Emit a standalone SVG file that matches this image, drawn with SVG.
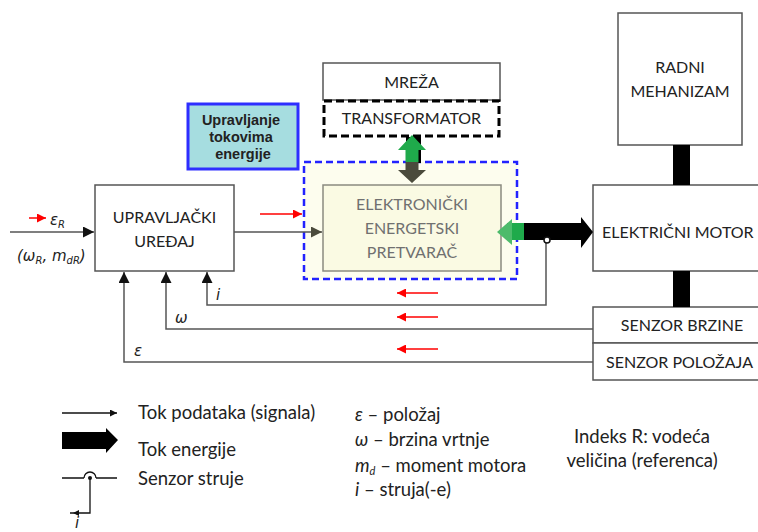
<svg xmlns="http://www.w3.org/2000/svg" width="758" height="532" viewBox="0 0 758 532">
<defs>
<style>
.box{fill:#fff;stroke:#555;stroke-width:1.5}
.t{font-family:Lato,"Liberation Sans",sans-serif;font-size:16px;fill:#222}
.tc{text-anchor:middle}
.g{fill:#707070}
.it{font-family:"DejaVu Sans",Lato,sans-serif;font-style:italic;font-size:15px;fill:#222}
.ln{fill:none;stroke:#555;stroke-width:1.5}
.red{fill:none;stroke:#f00;stroke-width:1.5}
.leg{font-family:Lato,"Liberation Sans",sans-serif;font-size:18.5px;fill:#222}
</style>
<marker id="ah" viewBox="0 0 10 10" refX="10" refY="5" markerWidth="7" markerHeight="7" markerUnits="userSpaceOnUse" orient="auto"><path d="M0,0L10,5L0,10z" fill="#111"/></marker>
<marker id="ahb" viewBox="0 0 10 10" refX="10" refY="5" markerWidth="11" markerHeight="11" markerUnits="userSpaceOnUse" orient="auto"><path d="M0,0L10,5L0,10z" fill="#111"/></marker>
<marker id="ahg" viewBox="0 0 10 10" refX="10" refY="5" markerWidth="11" markerHeight="11" markerUnits="userSpaceOnUse" orient="auto"><path d="M0,0L10,5L0,10z" fill="#4b4b3c"/></marker>
<marker id="ahr" viewBox="0 0 10 10" refX="10" refY="5" markerWidth="9" markerHeight="9" markerUnits="userSpaceOnUse" orient="auto"><path d="M0,0L10,5L0,10z" fill="#f00"/></marker>
</defs>

<g id="upravljacki">
  <rect class="box" x="95" y="185" width="139" height="86"/>
  <text class="t tc" x="164.5" y="223">UPRAVLJAČKI</text>
  <text class="t tc" x="164.5" y="247">UREĐAJ</text>
</g>

<g id="upravljanje-tokovima">
  <rect x="188" y="104" width="110" height="65" fill="#a6dde0" stroke="#2e2eff" stroke-width="3"/>
  <text font-family="'Liberation Sans',Arial,sans-serif" font-weight="bold" font-size="14.5" fill="#222" text-anchor="middle">
    <tspan x="243" y="125">Upravljanje</tspan>
    <tspan x="243" y="142">tokovima</tspan>
    <tspan x="243" y="159">energije</tspan>
  </text>
</g>

<g id="pretvarac">
  <rect x="304" y="162" width="213" height="117" fill="#fdfdee" stroke="#2222ff" stroke-width="2.5" stroke-dasharray="7,4"/>
  <rect x="323" y="185" width="178" height="86" fill="#fafae3" stroke="#8a8a80" stroke-width="1.5"/>
  <text class="t tc g" x="412" y="210">ELEKTRONIČKI</text>
  <text class="t tc g" x="412" y="234">ENERGETSKI</text>
  <text class="t tc g" x="412" y="258">PRETVARAČ</text>
</g>

<g id="mreza">
  <rect class="box" x="323" y="63" width="177" height="37"/>
  <text class="t tc" x="411.5" y="88">MREŽA</text>
</g>

<g id="transformator">
  <rect x="324" y="101" width="175" height="35" fill="#fff" stroke="#000" stroke-width="3" stroke-dasharray="8,4"/>
  <text class="t tc" x="411.5" y="124">TRANSFORMATOR</text>
</g>

<g id="radni-mehanizam">
  <rect class="box" x="618" y="13" width="124" height="132"/>
  <text class="t tc" x="680" y="73">RADNI</text>
  <text class="t tc" x="680" y="97">MEHANIZAM</text>
</g>

<g id="elektricni-motor">
  <rect class="box" x="593" y="185" width="200" height="86"/>
  <text class="t" x="602" y="238">ELEKTRIČNI MOTOR</text>
</g>

<g id="senzor-brzine">
  <rect class="box" x="593" y="307" width="200" height="36"/>
  <text class="t tc" x="682" y="331">SENZOR BRZINE</text>
</g>

<g id="senzor-polozaja">
  <rect class="box" x="593" y="343" width="200" height="37"/>
  <text class="t" x="606" y="368">SENZOR POLOŽAJA</text>
</g>

<!-- connectors -->
<g id="connectors">
  <path class="ln" d="M10,232H94" marker-end="url(#ahb)" stroke="#333"/>
  <path class="ln" d="M234,232H322" marker-end="url(#ahg)"/>
  <path class="ln" d="M546,243V305H207V272" marker-end="url(#ahb)"/>
  <path class="ln" d="M593,329H166V272" marker-end="url(#ahb)"/>
  <path class="ln" d="M593,362H124V272" marker-end="url(#ahb)"/>
  <!-- energy: radni - motor - senzor -->
  <rect x="673" y="145" width="17" height="40" fill="#000"/>
  <rect x="673" y="271" width="17" height="36" fill="#000"/>
  <!-- energy: pretvarac - motor -->
  <polygon points="507,223 581,223 581,217 593,232 581,248 581,240 507,240" fill="#000"/>
  <rect x="511" y="223" width="13" height="17" fill="#1faa4b"/>
  <polygon points="497,232 512,219 512,245" fill="#4dbb6b"/>
  <circle cx="547" cy="240" r="3" fill="#fff" stroke="#111" stroke-width="1.5"/>
  <!-- energy: transformator - pretvarac -->
  <rect x="406" y="137" width="15" height="26" fill="#000"/>
  <polygon points="412,135 426,150 418.5,150 418.5,162 405.5,162 405.5,150 398,150" fill="#1faa4b"/>
  <polygon points="405.5,162 418.5,162 418.5,170 426,170 412,183 398,170 405.5,170" fill="#4b4b3c"/>
  <!-- red direction arrows -->
  <path class="red" d="M29,218H46" marker-end="url(#ahr)"/>
  <path class="red" d="M260,214H302" marker-end="url(#ahr)"/>
  <path class="red" d="M438,293H397" marker-end="url(#ahr)"/>
  <path class="red" d="M438,317H397" marker-end="url(#ahr)"/>
  <path class="red" d="M438,349H397" marker-end="url(#ahr)"/>
</g>

<!-- labels on connectors -->
<g id="signal-labels">
  <text class="it" x="50" y="225">ε<tspan font-size="10" dy="3">R</tspan></text>
  <text class="it" x="17" y="261">(ω<tspan font-size="10" dy="3">R</tspan><tspan dy="-3">, m</tspan><tspan font-size="10" dy="3">dR</tspan><tspan dy="-3">)</tspan></text>
  <text class="it" x="216" y="300">i</text>
  <text class="it" x="175" y="323">ω</text>
  <text class="it" x="134" y="356">ε</text>
</g>

<g id="legend">
  <path d="M62,413H117" fill="none" stroke="#111" stroke-width="1.3" marker-end="url(#ah)"/>
  <text class="leg" x="138" y="419">Tok podataka (signala)</text>
  <polygon points="62,432 106,432 106,428 118,440 106,453 106,449 62,449" fill="#000"/>
  <text class="leg" x="138" y="456">Tok energije</text>
  <path d="M62,478H84M96,478H117" fill="none" stroke="#111" stroke-width="1.3"/>
  <path d="M84,478A6,6 0 0 1 96,478" fill="none" stroke="#111" stroke-width="1.3"/>
  <circle cx="90" cy="478" r="2" fill="#111"/>
  <path d="M90,478V513H70" fill="none" stroke="#111" stroke-width="1.3"/>
  <path d="M73,513L79,510L79,516z" fill="#111"/>
  <text class="it" x="75" y="528" font-size="14">i</text>
  <text class="leg" x="138" y="485">Senzor struje</text>
  <text class="leg" x="355" y="421"><tspan font-style="italic">ε</tspan> – položaj</text>
  <text class="leg" x="355" y="446"><tspan font-style="italic">ω</tspan> – brzina vrtnje</text>
  <text class="leg" x="355" y="472"><tspan font-style="italic">m</tspan><tspan font-style="italic" font-size="11" dy="3">d</tspan><tspan dy="-3"> – moment motora</tspan></text>
  <text class="leg" x="355" y="496"><tspan font-style="italic">i</tspan> – struja(-e)</text>
  <text class="leg" text-anchor="middle" x="642" y="443" font-size="18">Indeks R: vodeća</text>
  <text class="leg" text-anchor="middle" x="642" y="467" font-size="18">veličina (referenca)</text>
</g>
</svg>
